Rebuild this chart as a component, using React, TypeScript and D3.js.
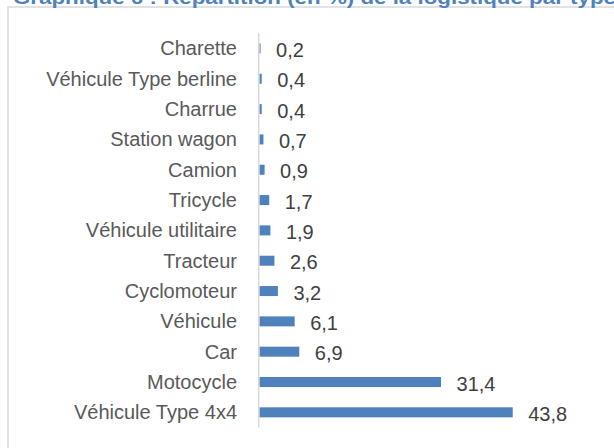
import React from "react";
import * as d3 from "d3";

const categories = [
  "Charette",
  "Véhicule Type berline",
  "Charrue",
  "Station wagon",
  "Camion",
  "Tricycle",
  "Véhicule utilitaire",
  "Tracteur",
  "Cyclomoteur",
  "Véhicule",
  "Car",
  "Motocycle",
  "Véhicule Type 4x4",
];
const values = [0.2, 0.4, 0.4, 0.7, 0.9, 1.7, 1.9, 2.6, 3.2, 6.1, 6.9, 31.4, 43.8];
const title = "Graphique 6 : Répartition (en %) de la logistique par type";

const W = 614;
const H = 448;

export default function App() {
  const x = d3.scaleLinear().domain([0, 50]).range([259.4, 548.6]);
  const y = d3.scaleBand<string>().domain(categories).range([33.3, 427.5]).paddingInner(0.67).paddingOuter(0.335);
  const fmt = (v: number) => v.toFixed(1).replace(".", ",");
  return (
    <svg width={W} height={H} style={{ position: "absolute", left: 0, top: 0, background: "#fff" }}>
      <rect x={8} y={7} width={W + 20} height={H + 20} fill="#fff" stroke="#D9D9D9" strokeWidth={1.5} />
      <text x={13} y={4} fill="#4F81BD" fontFamily="Liberation Sans, Arial, sans-serif" fontWeight="bold" fontSize={19} textLength={603} lengthAdjust="spacingAndGlyphs">
        {title}
      </text>
      {categories.map((c, i) => {
        const yc = (y(c) as number) + y.bandwidth() / 2;
        return (
          <g key={c}>
            <rect x={x(0)} y={y(c)} width={x(values[i]) - x(0)} height={y.bandwidth()} fill="#4F81BD" />
            <text x={237} y={yc + 7} textAnchor="end" fill="#595959" fontFamily="Liberation Sans, Arial, sans-serif" fontSize={20}>
              {c}
            </text>
            <text x={x(values[i]) + 15.5} y={yc + 8.7} fill="#404040" fontFamily="Liberation Sans, Arial, sans-serif" fontSize={20}>
              {fmt(values[i])}
            </text>
          </g>
        );
      })}
      <line x1={258.7} x2={258.7} y1={33.3} y2={427.5} stroke="#D9D9D9" strokeWidth={1.5} />
    </svg>
  );
}
